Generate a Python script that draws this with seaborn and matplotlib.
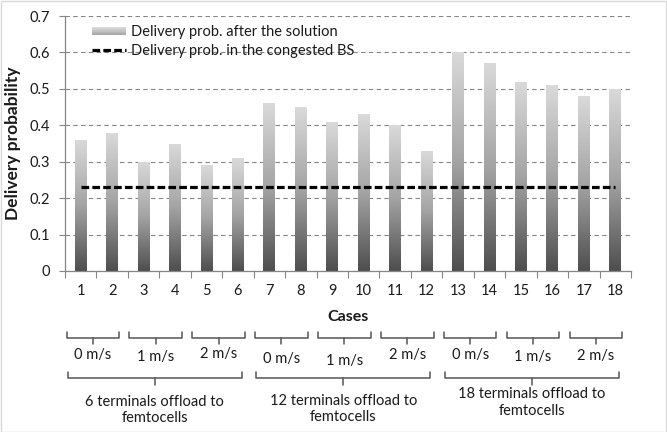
import numpy as np
import pandas as pd
import matplotlib
matplotlib.use("Agg")
import matplotlib.pyplot as plt
import seaborn as sns
from matplotlib.colors import LinearSegmentedColormap
from matplotlib.legend_handler import HandlerBase
from matplotlib.patches import Rectangle
from matplotlib.lines import Line2D
import matplotlib.transforms as mtransforms

# ---------------- data ----------------
cases = [str(i) for i in range(1, 19)]
prob_after = [0.36, 0.38, 0.30, 0.35, 0.29, 0.31,
              0.46, 0.45, 0.41, 0.43, 0.40, 0.33,
              0.60, 0.57, 0.52, 0.51, 0.48, 0.50]
prob_congested = [0.23] * 18
yticks = [0, 0.1, 0.2, 0.3, 0.4, 0.5, 0.6, 0.7]
ytick_labels = ["0", "0.1", "0.2", "0.3", "0.4", "0.5", "0.6", "0.7"]
speed_labels = ["0 m/s", "1 m/s", "2 m/s"] * 3
group_labels = ["6 terminals offload to\nfemtocells",
                "12 terminals offload to\nfemtocells",
                "18 terminals offload to\nfemtocells"]
legend_labels = ["Delivery prob. after the solution",
                 "Delivery prob. in the congested BS"]

# ---------------- style ----------------
sns.set_theme(style="white")
plt.rcParams["font.family"] = ["Lato", "DejaVu Sans"]
TXT = "#1a1a1a"
AXC = "#868686"
W, H = 667, 432

fig = plt.figure(figsize=(W / 100, H / 100), dpi=100)
fig.patch.set_facecolor("white")
fig.add_artist(Rectangle((0.5 / W, 0.5 / H), 1 - 1.5 / W, 1 - 1.5 / H,
                         transform=fig.transFigure, fill=False,
                         edgecolor="#d9d9d9", lw=1.0))

ax = fig.add_axes([65 / W, 1 - 271 / H, 566 / W, 255 / H])
df = pd.DataFrame({"Case": cases, "Delivery probability": prob_after})
sns.barplot(data=df, x="Case", y="Delivery probability", color="#aaaaaa",
            width=0.38, ax=ax, zorder=2, saturation=1)

cmap = LinearSegmentedColormap.from_list(
    "g", [(0, "#4e4e4e"), (0.5, "#a4a4a4"), (1, "#dadada")])
grad = np.linspace(0, 1, 256).reshape(-1, 1)
for bar in list(ax.patches):
    x0, y0 = bar.get_x(), bar.get_y()
    w, h = bar.get_width(), bar.get_height()
    im = ax.imshow(grad, extent=[x0, x0 + w, y0, y0 + h], origin="lower",
                   aspect="auto", cmap=cmap, zorder=2.5, interpolation="bilinear")
    im.set_clip_path(bar)
    bar.set_facecolor("none")
    bar.set_edgecolor("none")

xpos = np.arange(len(cases))
ax.plot(xpos, prob_congested, color="black", lw=2.3, dashes=(2.4, 1.0),
        zorder=3, solid_capstyle="butt", dash_capstyle="butt")

ax.set_xlim(-0.5, len(cases) - 0.5)
ax.set_ylim(0, 0.7)
ax.set_yticks(yticks)
ax.set_yticklabels(ytick_labels)
ax.yaxis.grid(True, color=AXC, lw=0.8, ls=(0, (4, 3)), zorder=0)
ax.xaxis.grid(False)
ax.set_axisbelow(True)

# x ticks: marks at category boundaries, labels at centers
ax.set_xticks(np.arange(-0.5, len(cases), 1.0))
ax.set_xticklabels([])
ax.set_xticks(xpos, minor=True)
ax.set_xticklabels(cases, minor=True)
ax.tick_params(axis="x", which="major", length=5, width=0.8, color=AXC,
               direction="out", bottom=True)
ax.tick_params(axis="x", which="minor", length=0, pad=9.5,
               labelsize=10.5, labelcolor=TXT)
ax.tick_params(axis="y", length=4, width=0.8, color=AXC, direction="out",
               left=True, pad=7, labelsize=10.5, labelcolor=TXT)

for s in ["top", "right"]:
    ax.spines[s].set_visible(False)
for s in ["left", "bottom"]:
    ax.spines[s].set_color(AXC)
    ax.spines[s].set_linewidth(0.9)

ax.set_xlabel("")
ax.set_ylabel("Delivery probability", fontsize=12.5, fontweight="bold",
              color=TXT)
ax.yaxis.set_label_coords(-0.077, 0.5)
fig.text(348 / W, 1 - 317 / H, "Cases", fontsize=11.5, fontweight="bold",
         color=TXT, ha="center", va="center")


# ---------------- legend ----------------
class GradHandler(HandlerBase):
    def create_artists(self, legend, orig_handle, xdescent, ydescent,
                       width, height, fontsize, trans):
        arts = []
        n = 12
        hh = height * 0.75
        yb = -ydescent + (height - hh) / 2
        for i in range(n):
            c = cmap(0.55 + 0.45 * (i / (n - 1)))
            r = Rectangle((-xdescent, yb + hh * i / n), width, hh / n + 0.01,
                          facecolor=c, edgecolor="none", transform=trans)
            arts.append(r)
        return arts


h_bar = Rectangle((0, 0), 1, 1)
h_line = Line2D([0], [0], color="black", lw=2.3, dashes=(2.4, 1.0))
leg = ax.legend([h_bar, h_line], legend_labels,
                handler_map={Rectangle: GradHandler()},
                loc="upper left", bbox_to_anchor=(92 / W, 1 - 25 / H),
                bbox_transform=fig.transFigure, frameon=False,
                fontsize=10.5, handlelength=2.3, handletextpad=0.35,
                labelspacing=0.35, borderaxespad=0, borderpad=0)
for t in leg.get_texts():
    t.set_color(TXT)

# ---------------- braces ----------------
trans = mtransforms.blended_transform_factory(ax.transData, fig.transFigure)
BRC = "#555555"


def fy(py):
    return 1 - py / H


def brace(x0, x1, ytop, ymid, ybot):
    xc = (x0 + x1) / 2
    xs = [x0, x0, x1, x1]
    ys = [fy(ytop), fy(ymid), fy(ymid), fy(ytop)]
    fig.add_artist(Line2D(xs, ys, transform=trans, color=BRC, lw=1.1,
                          solid_joinstyle="round"))
    fig.add_artist(Line2D([xc, xc], [fy(ymid), fy(ybot)], transform=trans,
                          color=BRC, lw=1.1))
    return xc


speed_y = [355, 357, 354, 359, 361, 355, 355, 357, 356]
for k, lab in enumerate(speed_labels):
    xc = brace(2 * k - 0.45, 2 * k + 1.22, 332, 338, 344)
    fig.text(xc, fy(speed_y[k]), lab, transform=trans, ha="center",
             va="center", fontsize=10.5, color=TXT)

group_y = [410, 409, 402.5]
for g, lab in enumerate(group_labels):
    xc = brace(6 * g - 0.42, 6 * g + 5.12, 372, 378, 385)
    fig.text(xc, fy(group_y[g]), lab, transform=trans, ha="center",
             va="center", fontsize=10.5, color=TXT, linespacing=1.25)

fig.savefig("out.png", dpi=100)
